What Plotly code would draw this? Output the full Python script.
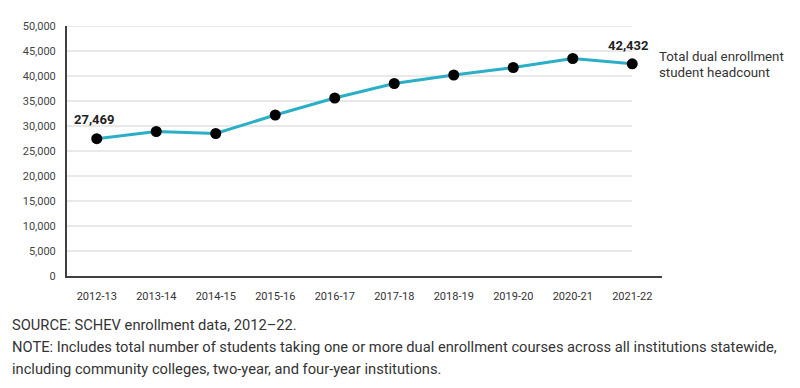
import plotly.graph_objects as go

years = ["2012-13", "2013-14", "2014-15", "2015-16", "2016-17",
         "2017-18", "2018-19", "2019-20", "2020-21", "2021-22"]
headcount = [27469, 28900, 28500, 32200, 35600, 38500, 40200, 41700, 43500, 42432]
y_ticks = list(range(0, 50001, 5000))
series_label = ["Total dual enrollment", "student headcount"]
footnotes = [
    "SOURCE: SCHEV enrollment data, 2012–22.",
    "NOTE: Includes total number of students taking one or more dual enrollment courses across all institutions statewide,",
    "including community colleges, two-year, and four-year institutions.",
]

FONT = "Roboto, Open Sans, sans-serif"

fig = go.Figure()
fig.add_trace(go.Scatter(
    x=list(range(len(years))), y=headcount, mode="lines+markers",
    line=dict(color="#2AAFC6", width=3),
    marker=dict(color="black", size=11),
    hoverinfo="skip", showlegend=False,
))

shapes = []
for t in y_ticks[1:]:
    shapes.append(dict(type="line", xref="x", yref="y", x0=-0.5, x1=len(years) - 1,
                       y0=t, y1=t, line=dict(color="#E2E2E2", width=1.5), layer="below"))

annotations = [
    dict(x=0, y=headcount[0], xref="x", yref="y", text=f"<b>{headcount[0]:,}</b>",
         showarrow=False, yshift=19, xshift=-2, font=dict(size=13, color="#222")),
    dict(x=len(years) - 1, y=headcount[-1], xref="x", yref="y",
         text=f"<b>{headcount[-1]:,}</b>", showarrow=False, yshift=18, xshift=-4,
         font=dict(size=13, color="#222")),
]
for i, line in enumerate(series_label):
    annotations.append(dict(x=1, y=1, xref="paper", yref="paper", text=line,
                            showarrow=False, xanchor="left", yanchor="middle",
                            xshift=-5, yshift=-30 - 16 * i,
                            font=dict(size=13.3, color="#333")))
for i, line in enumerate(footnotes):
    annotations.append(dict(x=0, y=0, xref="paper", yref="paper", text=line,
                            showarrow=False, xanchor="left", yanchor="middle",
                            xshift=-57, yshift=-49 - 22 * i,
                            font=dict(size=14.7, color="#333")))

fig.update_layout(
    width=792, height=380,
    margin=dict(l=59, r=138, t=14, b=112),
    paper_bgcolor="white", plot_bgcolor="white",
    font=dict(family=FONT, color="#333"),
    shapes=shapes,
    xaxis=dict(range=[-0.5, len(years) - 0.5], tickmode="array",
               tickvals=list(range(len(years))), ticktext=years,
               showgrid=False, zeroline=False, showline=True,
               linecolor="#404040", linewidth=2, ticks="", ticklabelstandoff=9,
               tickfont=dict(size=11, color="#333"), fixedrange=True),
    yaxis=dict(range=[0, 50000], tickmode="array", tickvals=y_ticks,
               ticktext=[f"{v:,}" for v in y_ticks],
               showgrid=False, zeroline=False, showline=True,
               linecolor="#404040", linewidth=2, ticks="", ticklabelstandoff=7,
               tickfont=dict(size=11, color="#444"), fixedrange=True),
    annotations=annotations,
)

fig.write_html("out.html")
